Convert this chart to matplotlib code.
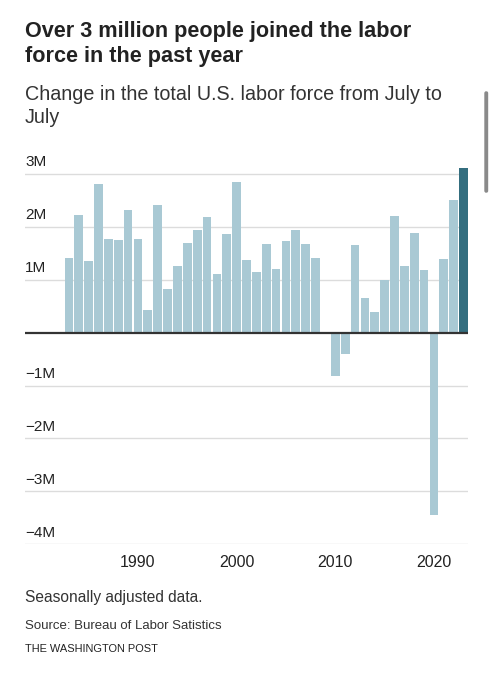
import numpy as np
import matplotlib
matplotlib.use("Agg")
import matplotlib.pyplot as plt
from matplotlib.patches import FancyBboxPatch

#%% data, change in labor force July to July (millions)
years = list(range(1983, 2024))
change = [1.42, 2.22, 1.35, 2.82, 1.78, 1.76, 2.31, 1.77, 0.42, 2.41,
          0.83, 1.26, 1.69, 1.95, 2.19, 1.11, 1.86, 2.85, 1.38, 1.15,
          1.68, 1.21, 1.74, 1.95, 1.67, 1.42, 0.02, -0.81, -0.40, 1.66,
          0.65, 0.40, 1.00, 2.20, 1.27, 1.88, 1.19, -3.44, 1.39, 2.51,
          3.12]
y_ticks = [3, 2, 1, -1, -2, -3, -4]
y_labels = ["3M", "2M", "1M", "\u22121M", "\u22122M", "\u22123M", "\u22124M"]
x_ticks = [1990, 2000, 2010, 2020]

title = "Over 3 million people joined the labor\nforce in the past year"
subtitle = "Change in the total U.S. labor force from July to\nJuly"
note = "Seasonally adjusted data."
source = "Source: Bureau of Labor Satistics"
credit = "THE WASHINGTON POST"

#%% figure
W, H = 492, 680
fig = plt.figure(figsize=(W / 100, H / 100), dpi=100)
fig.patch.set_facecolor("white")

# axes placed in pixel terms
left, right = 25, 468
bottom_px, top_px = 544.3, 163.4
ax = fig.add_axes([left / W, (H - bottom_px) / H, (right - left) / W,
                   (bottom_px - top_px) / H])

colors = ["#a9c9d4"] * (len(years) - 1) + ["#346e7f"]
ax.bar(years, change, width=0.88, color=colors, zorder=2)

ax.set_xlim(1978.55, 2023.45)
ax.set_ylim(-4.0, 3.2)

for v in y_ticks:
    ax.axhline(v, color="#dcdcdc", lw=1.0, zorder=1)
ax.axhline(0, color="#333333", lw=1.6, zorder=3)

for v, lab in zip(y_ticks, y_labels):
    ax.text(0, v + 0.09, lab, transform=ax.get_yaxis_transform(),
            ha="left", va="bottom", fontsize=11, color="#222222",
            family="Liberation Sans")

ax.set_yticks([])
ax.set_xticks(x_ticks)
ax.set_xticklabels([str(x) for x in x_ticks], fontsize=11.5, color="#222222",
                   family="Liberation Sans")
ax.tick_params(axis="x", length=0, pad=8)
for s in ax.spines.values():
    s.set_visible(False)

#%% text (multi-line baseline = last line)
fig.text(25 / W, 1 - 62 / H, title, ha="left", va="baseline",
         fontsize=15.6, fontweight="bold", color="#222222",
         family="Liberation Sans", linespacing=1.245)
fig.text(25 / W, 1 - 123 / H, subtitle, ha="left", va="baseline",
         fontsize=14.2, color="#333333", family="Liberation Sans",
         linespacing=1.24)
fig.text(25 / W, 1 - 601.7 / H, note, ha="left", va="baseline",
         fontsize=11.2, color="#333333", family="Liberation Sans")
fig.text(25 / W, 1 - 629 / H, source, ha="left", va="baseline",
         fontsize=9.5, color="#333333", family="Liberation Sans")
fig.text(25 / W, 1 - 651.7 / H, credit, ha="left", va="baseline",
         fontsize=7.9, color="#222222", family="Liberation Sans")

# scrollbar from the screenshot
fig.patches.append(FancyBboxPatch((485 / W, 1 - 192 / H), 2.5 / W, 100 / H,
                                  boxstyle="round,pad=0,rounding_size=0.002",
                                  transform=fig.transFigure,
                                  color="#8a8a8a", zorder=5))

fig.savefig("out.png", dpi=100)
